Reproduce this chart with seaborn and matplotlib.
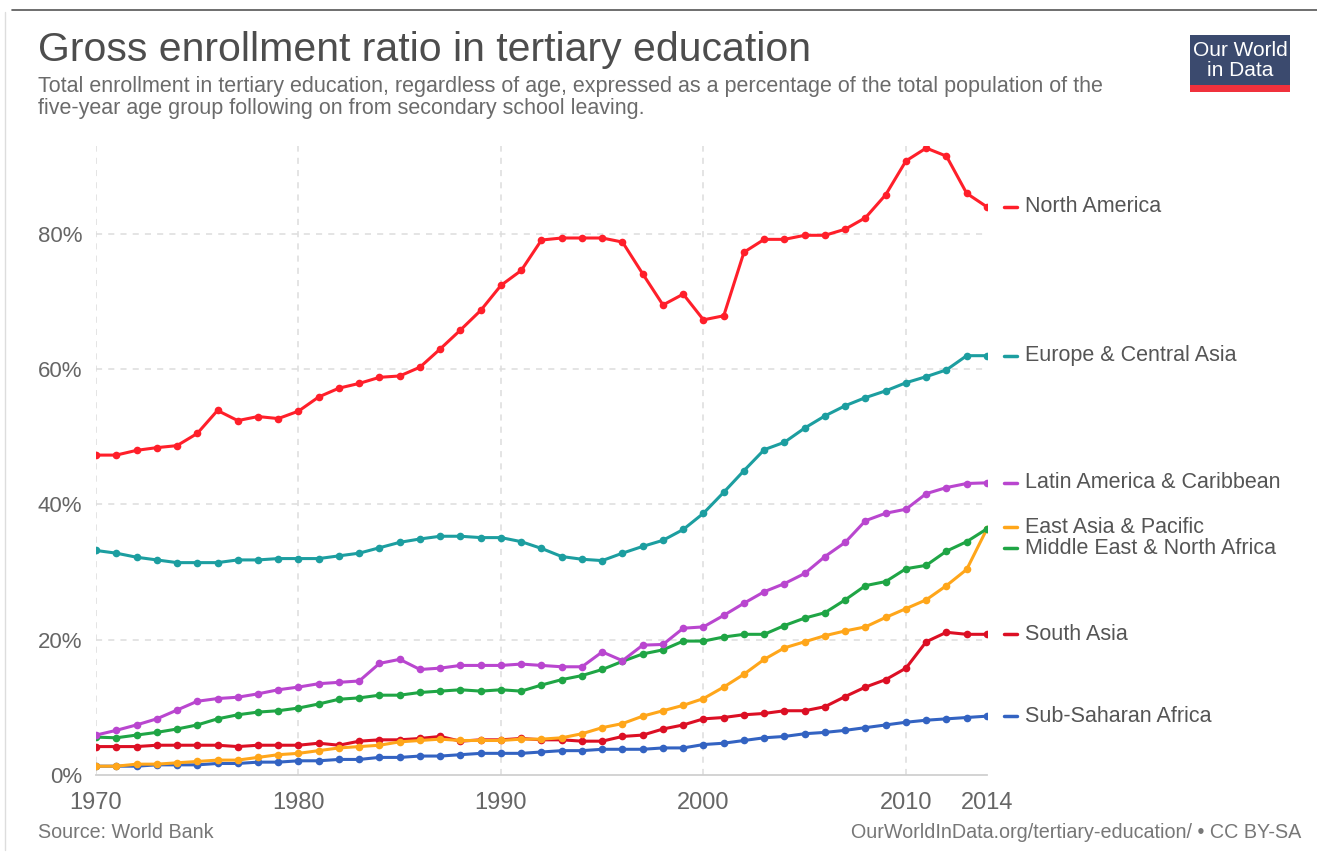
import matplotlib
matplotlib.use("Agg")
import matplotlib.pyplot as plt
from matplotlib.patches import Rectangle
from matplotlib.lines import Line2D
import numpy as np
import pandas as pd
import seaborn as sns

# %% data (percent)
years = list(range(1970, 2015))

north_america = [47.3, 47.3, 48.0, 48.4, 48.7, 50.5, 53.9, 52.4, 53.0, 52.7,
                 53.8, 55.9, 57.2, 57.9, 58.8, 59.0, 60.3, 63.0, 65.8, 68.7,
                 72.4, 74.6, 79.1, 79.4, 79.4, 79.4, 78.8, 74.1, 69.5, 71.1,
                 67.3, 67.9, 77.3, 79.2, 79.2, 79.8, 79.8, 80.7, 82.4, 85.8,
                 90.8, 92.7, 91.5, 86.0, 84.0]
europe_central_asia = [33.2, 32.8, 32.2, 31.8, 31.4, 31.4, 31.4, 31.8, 31.8, 32.0,
                       32.0, 32.0, 32.4, 32.8, 33.6, 34.4, 34.9, 35.3, 35.3, 35.1,
                       35.1, 34.5, 33.5, 32.3, 31.9, 31.7, 32.8, 33.8, 34.7, 36.3,
                       38.7, 41.8, 45.0, 48.1, 49.2, 51.3, 53.1, 54.6, 55.8, 56.8,
                       58.0, 58.9, 59.9, 62.0, 62.0]
latin_america = [5.9, 6.6, 7.4, 8.3, 9.6, 10.9, 11.3, 11.5, 12.0, 12.6,
                 13.0, 13.5, 13.7, 13.9, 16.5, 17.1, 15.6, 15.8, 16.2, 16.2,
                 16.2, 16.4, 16.2, 16.0, 16.0, 18.2, 16.9, 19.2, 19.3, 21.7,
                 21.9, 23.6, 25.4, 27.1, 28.3, 29.8, 32.3, 34.4, 37.6, 38.7,
                 39.3, 41.6, 42.5, 43.1, 43.2]
east_asia_pacific = [1.3, 1.3, 1.6, 1.6, 1.8, 2.0, 2.2, 2.2, 2.6, 3.0,
                     3.2, 3.6, 4.0, 4.2, 4.4, 4.9, 5.1, 5.3, 5.1, 5.1,
                     5.1, 5.3, 5.3, 5.5, 6.1, 7.0, 7.6, 8.7, 9.5, 10.3,
                     11.3, 13.0, 14.9, 17.1, 18.8, 19.7, 20.6, 21.3, 21.9, 23.3,
                     24.6, 25.9, 28.0, 30.4, 36.4]
middle_east_na = [5.6, 5.5, 5.9, 6.3, 6.8, 7.4, 8.3, 8.9, 9.3, 9.5,
                  9.9, 10.5, 11.2, 11.4, 11.8, 11.8, 12.2, 12.4, 12.6, 12.4,
                  12.6, 12.4, 13.3, 14.1, 14.7, 15.6, 16.8, 17.9, 18.5, 19.8,
                  19.8, 20.4, 20.8, 20.8, 22.1, 23.2, 24.0, 25.9, 28.0, 28.6,
                  30.5, 31.0, 33.1, 34.5, 36.4]
south_asia = [4.2, 4.2, 4.2, 4.4, 4.4, 4.4, 4.4, 4.2, 4.4, 4.4,
              4.4, 4.7, 4.4, 5.0, 5.2, 5.2, 5.4, 5.7, 5.0, 5.2,
              5.2, 5.4, 5.2, 5.2, 5.0, 5.0, 5.7, 5.9, 6.8, 7.4,
              8.3, 8.5, 8.9, 9.1, 9.5, 9.5, 10.1, 11.6, 13.0, 14.1,
              15.8, 19.7, 21.1, 20.8, 20.8]
sub_saharan_africa = [1.3, 1.3, 1.3, 1.5, 1.5, 1.5, 1.7, 1.7, 1.9, 1.9,
                      2.1, 2.1, 2.3, 2.3, 2.6, 2.6, 2.8, 2.8, 3.0, 3.2,
                      3.2, 3.2, 3.4, 3.6, 3.6, 3.8, 3.8, 3.8, 4.0, 4.0,
                      4.5, 4.7, 5.1, 5.5, 5.7, 6.1, 6.3, 6.6, 7.0, 7.4,
                      7.8, 8.1, 8.3, 8.5, 8.7]

regions = ["Sub-Saharan Africa", "South Asia", "East Asia & Pacific",
           "Middle East & North Africa", "Latin America & Caribbean",
           "Europe & Central Asia", "North America"]
series = [sub_saharan_africa, south_asia, east_asia_pacific, middle_east_na,
          latin_america, europe_central_asia, north_america]
colors = ["#3363c2", "#dc0f24", "#ffa61a", "#1fa545", "#b946cf", "#1c9ea0", "#ff1f2a"]
palette = dict(zip(regions, colors))

label_y = {"North America": 84.0, "Europe & Central Asia": 62.0,
           "Latin America & Caribbean": 43.2, "East Asia & Pacific": 36.6,
           "Middle East & North Africa": 33.5, "South Asia": 20.8,
           "Sub-Saharan Africa": 8.7}

df = pd.concat([pd.DataFrame({"year": years, "value": v, "region": r})
                for r, v in zip(regions, series)], ignore_index=True)

# %%
sns.set_theme(style="white")
plt.rcParams["font.family"] = ["Liberation Sans", "DejaVu Sans"]

fig = plt.figure(figsize=(13.17, 8.61), dpi=100)
fig.patch.set_facecolor("white")
ax = fig.add_axes([0.0729, 0.0999, 0.6765, 0.7305])

sns.lineplot(data=df, x="year", y="value", hue="region", palette=palette,
             hue_order=regions, marker="o", markersize=5.5, markeredgewidth=0,
             linewidth=2.2, legend=False, ax=ax)

ax.set_xlim(1970, 2014)
ax.set_ylim(0, 93)
ax.set_xticks([1970, 1980, 1990, 2000, 2010, 2014])
ax.set_yticks([0, 20, 40, 60, 80])
ax.set_yticklabels(["0%", "20%", "40%", "60%", "80%"])
ax.set_xlabel("")
ax.set_ylabel("")
ax.tick_params(axis="both", length=0, colors="#666666")
ax.tick_params(axis="x", pad=12, labelsize=17)
ax.tick_params(axis="y", pad=10, labelsize=16)

for y in [20, 40, 60, 80]:
    ax.axhline(y, color="#dddddd", linestyle=(0, (4, 4)), linewidth=1.1, zorder=0)
for x in [1970, 1980, 1990, 2000, 2010]:
    ax.axvline(x, color="#dddddd", linestyle=(0, (4, 4)), linewidth=1.1, zorder=0)
for s in ["top", "right", "left"]:
    ax.spines[s].set_visible(False)
ax.spines["bottom"].set_color("#d0d0d0")
ax.spines["bottom"].set_linewidth(1.3)

# right-hand labels
for r in regions:
    y = label_y[r]
    ax.add_line(Line2D([2014.85, 2015.5], [y, y], color=palette[r], linewidth=2.5,
                       clip_on=False, transform=ax.transData))
    ax.text(2015.9, y, r, color="#555555", fontsize=15.5, va="center",
            ha="left", clip_on=False)

# title / subtitle
fig.text(0.029, 0.942, "Gross enrollment ratio in tertiary education",
         fontsize=29.5, color="#4d4d4d", va="center", ha="left")
fig.text(0.029, 0.899, "Total enrollment in tertiary education, regardless of age, "
         "expressed as a percentage of the total population of the",
         fontsize=15.5, color="#6b6b6b", va="center", ha="left")
fig.text(0.029, 0.874, "five-year age group following on from secondary school leaving.",
         fontsize=15.5, color="#6b6b6b", va="center", ha="left")

# logo
fig.patches.append(Rectangle((1190 / 1317, 1 - 92 / 861), 100 / 1317, 57 / 861,
                             transform=fig.transFigure, facecolor="#3b4a6e",
                             edgecolor="none"))
fig.patches.append(Rectangle((1190 / 1317, 1 - 92 / 861), 100 / 1317, 7 / 861,
                             transform=fig.transFigure, facecolor="#f0313c",
                             edgecolor="none"))
fig.text(1240 / 1317, 1 - 50 / 861, "Our World", color="white", fontsize=15,
         ha="center", va="center")
fig.text(1240 / 1317, 1 - 71 / 861, "in Data", color="white", fontsize=15,
         ha="center", va="center")

# footer
fig.text(0.029, 1 - 833 / 861, "Source: World Bank", fontsize=14.2,
         color="#777777", va="center", ha="left")
fig.text(0.988, 1 - 833 / 861, "OurWorldInData.org/tertiary-education/ \u2022 CC BY-SA",
         fontsize=14.2, color="#777777", va="center", ha="right")

# thin frame lines like the screenshot
fig.add_artist(Line2D([12 / 1317, 1], [1 - 10 / 861, 1 - 10 / 861],
                      transform=fig.transFigure, color="#555555", linewidth=1.2))
fig.add_artist(Line2D([5 / 1317, 5 / 1317], [1 - 850 / 861, 1 - 12 / 861],
                      transform=fig.transFigure, color="#dddddd", linewidth=1))

fig.savefig("out.png", dpi=100, facecolor="white")
